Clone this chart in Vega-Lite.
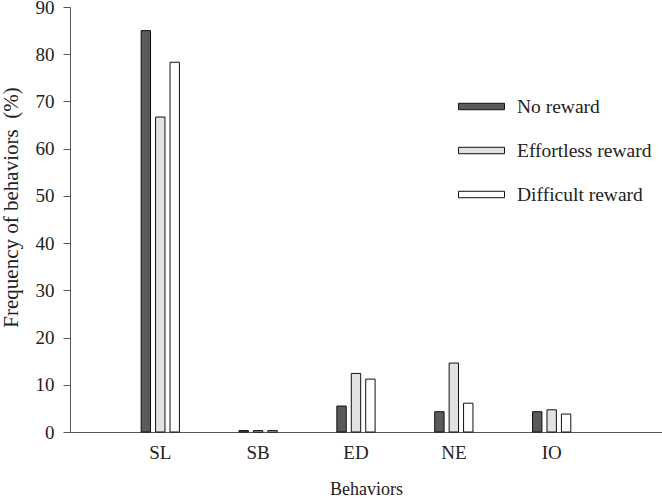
{
  "$schema": "https://vega.github.io/schema/vega-lite/v6.json",
  "width": 592,
  "height": 425,
  "autosize": {"type": "none"},
  "padding": {"left": 70, "top": 7, "right": 0, "bottom": 66},
  "background": "white",
  "config": {
    "view": {"stroke": null},
    "font": "Liberation Serif",
    "axis": {"labelFont": "Liberation Serif", "titleFont": "Liberation Serif", "labelColor": "#222", "titleColor": "#222", "domainColor": "#555", "tickColor": "#555", "grid": false, "titleFontWeight": "normal"}
  },
  "data": {
    "values": [
      {"behavior": "SL", "condition": "No reward", "value": 85.0},
      {"behavior": "SL", "condition": "Effortless reward", "value": 66.7},
      {"behavior": "SL", "condition": "Difficult reward", "value": 78.3},
      {"behavior": "SB", "condition": "No reward", "value": 0.3},
      {"behavior": "SB", "condition": "Effortless reward", "value": 0.3},
      {"behavior": "SB", "condition": "Difficult reward", "value": 0.3},
      {"behavior": "ED", "condition": "No reward", "value": 5.5},
      {"behavior": "ED", "condition": "Effortless reward", "value": 12.4},
      {"behavior": "ED", "condition": "Difficult reward", "value": 11.2},
      {"behavior": "NE", "condition": "No reward", "value": 4.3},
      {"behavior": "NE", "condition": "Effortless reward", "value": 14.6},
      {"behavior": "NE", "condition": "Difficult reward", "value": 6.1},
      {"behavior": "IO", "condition": "No reward", "value": 4.3},
      {"behavior": "IO", "condition": "Effortless reward", "value": 4.7},
      {"behavior": "IO", "condition": "Difficult reward", "value": 3.8}
    ]
  },
  "mark": {"type": "bar", "stroke": "#111", "strokeWidth": 1},
  "encoding": {
    "x": {
      "field": "behavior", "type": "nominal", "sort": ["SL", "SB", "ED", "NE", "IO"],
      "scale": {"paddingInner": 0.55, "paddingOuter": 0.8, "align": 0.436},
      "axis": {"title": "Behaviors", "labelAngle": 0, "ticks": false, "labelPadding": 11, "labelFontSize": 19, "titleFontSize": 18, "titlePadding": 18}
    },
    "xOffset": {
      "field": "condition", "type": "nominal", "sort": ["No reward", "Effortless reward", "Difficult reward"],
      "scale": {"paddingInner": 0.35, "paddingOuter": 0.2}
    },
    "y": {
      "field": "value", "type": "quantitative",
      "scale": {"domain": [0, 90], "nice": false},
      "axis": {"title": "Frequency of behaviors\u00a0\u00a0(%)", "values": [0,10,20,30,40,50,60,70,80,90], "tickSize": 7, "labelFontSize": 19, "titleFontSize": 21, "labelPadding": 9, "titlePadding": 14, "titleY": 200}
    },
    "fill": {
      "field": "condition", "type": "nominal", "sort": ["No reward", "Effortless reward", "Difficult reward"],
      "scale": {"domain": ["No reward", "Effortless reward", "Difficult reward"], "range": ["#5a5a5a", "#e2e2e2", "#ffffff"]},
      "legend": {
        "title": null, "orient": "none", "legendX": 388, "legendY": 76,
        "symbolType": "M-1,-0.14H1V0.14H-1Z", "symbolSize": 2116,
        "symbolStrokeColor": "#111", "symbolStrokeWidth": 1,
        "labelFontSize": 19.5, "labelColor": "#222", "labelOffset": 12, "rowPadding": 11, "padding": 0
      }
    }
  }
}
